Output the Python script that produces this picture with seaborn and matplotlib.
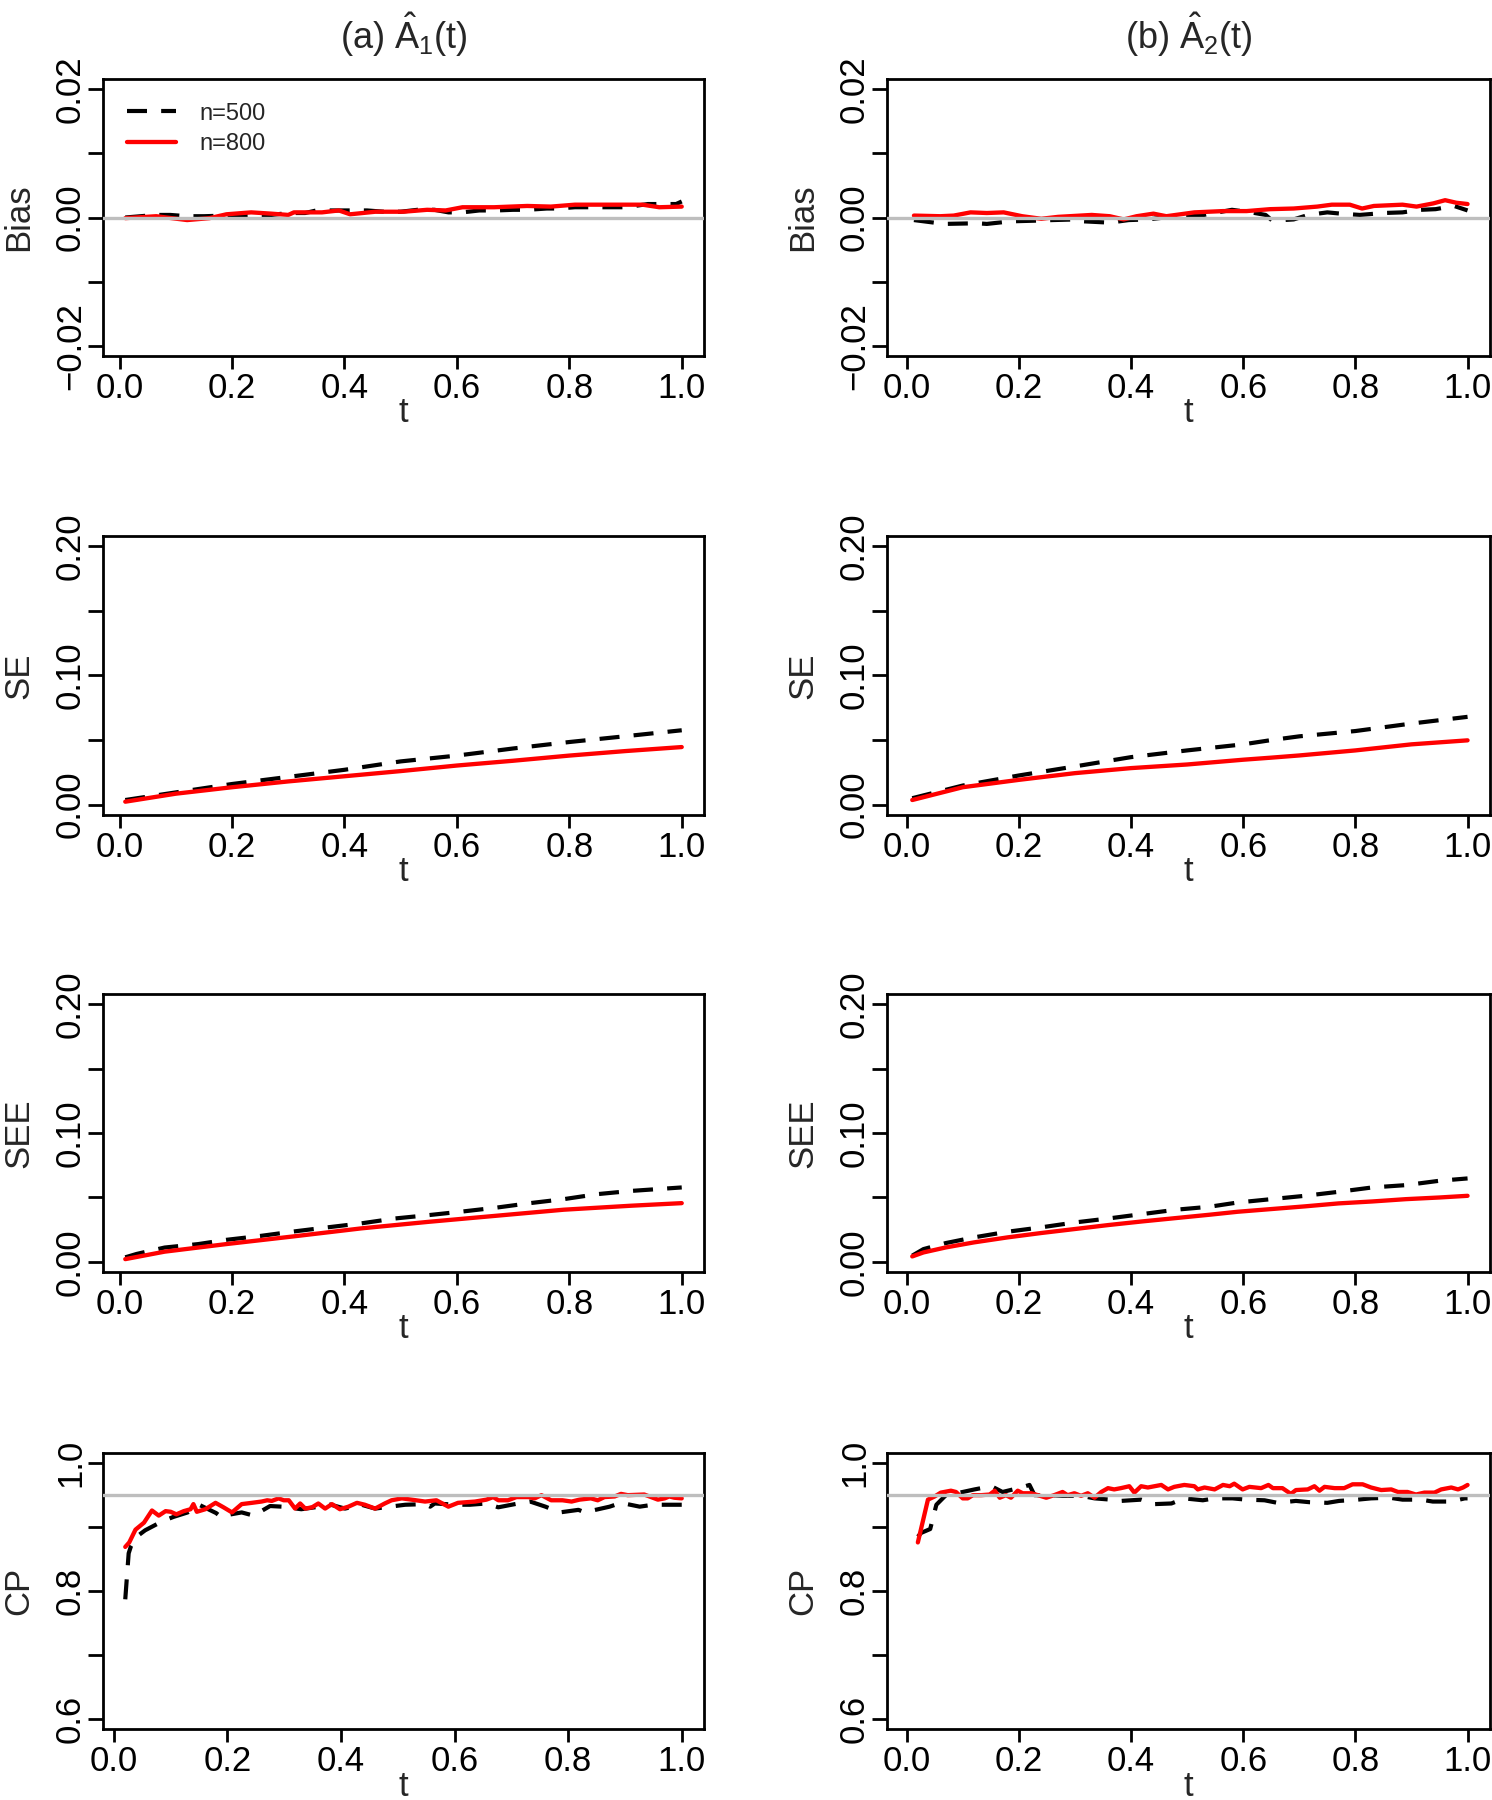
import matplotlib
matplotlib.use("Agg")
import matplotlib.pyplot as plt
import numpy as np
import pandas as pd
import seaborn as sns

# ---- data (t, value) ----
# Bias, column (a)
bias_a_t500 = [0.01, 0.065, 0.09, 0.12, 0.15, 0.23, 0.27, 0.30, 0.33, 0.35, 0.38, 0.41, 0.44, 0.47, 0.50,
               0.53, 0.56, 0.585, 0.61, 0.64, 0.67, 0.70, 0.725, 0.76, 0.78, 0.81, 0.84, 0.88, 0.90, 0.94,
               0.96, 0.99, 1.00]
bias_a_v500 = [0.0000, 0.0004, 0.0004, 0.0002, 0.0002, 0.0004, 0.0004, 0.0007, 0.0007, 0.0011, 0.0011,
               0.0011, 0.0011, 0.0009, 0.0009, 0.0012, 0.0012, 0.0008, 0.0008, 0.0011, 0.0011, 0.0012,
               0.0012, 0.0014, 0.0014, 0.0016, 0.0016, 0.0016, 0.0016, 0.0021, 0.0021, 0.0021, 0.0025]
bias_a_t800 = [0.01, 0.065, 0.12, 0.16, 0.19, 0.234, 0.27, 0.30, 0.31, 0.36, 0.39, 0.41, 0.455, 0.505,
               0.547, 0.58, 0.61, 0.666, 0.725, 0.767, 0.81, 0.87, 0.93, 0.96, 1.00]
bias_a_v800 = [-0.0001, 0.0002, -0.0004, -0.0001, 0.0005, 0.0008, 0.0006, 0.0004, 0.0008, 0.0008, 0.0011,
               0.0005, 0.0009, 0.0009, 0.0012, 0.0011, 0.0016, 0.0016, 0.0018, 0.0017, 0.0020, 0.0020,
               0.0020, 0.0016, 0.0017]
# Bias, column (b)
bias_b_t500 = [0.013, 0.067, 0.126, 0.143, 0.185, 0.227, 0.26, 0.303, 0.316, 0.362, 0.396, 0.43, 0.48,
               0.53, 0.58, 0.614, 0.64, 0.652, 0.69, 0.716, 0.75, 0.774, 0.808, 0.85, 0.884, 0.917, 0.943,
               0.976, 1.00]
bias_b_v500 = [-0.0004, -0.0010, -0.0009, -0.0010, -0.0006, -0.0005, -0.0004, -0.0003, -0.0006, -0.0008,
               -0.0004, -0.0003, 0.0002, 0.0004, 0.0012, 0.0008, 0.0004, -0.0005, -0.0003, 0.0004, 0.0008,
               0.0006, 0.0004, 0.0007, 0.0008, 0.0012, 0.0013, 0.0018, 0.0011]
bias_b_t800 = [0.013, 0.06, 0.084, 0.114, 0.143, 0.173, 0.206, 0.24, 0.27, 0.31, 0.33, 0.362, 0.387, 0.41,
               0.44, 0.463, 0.513, 0.564, 0.606, 0.648, 0.69, 0.732, 0.758, 0.79, 0.812, 0.833, 0.884, 0.909,
               0.939, 0.96, 0.98, 1.00]
bias_b_v800 = [0.0003, 0.0002, 0.0003, 0.0008, 0.0007, 0.0008, 0.0002, -0.0002, 0.0001, 0.0003, 0.0004,
               0.0002, -0.0003, 0.0002, 0.0006, 0.0002, 0.0008, 0.0010, 0.0010, 0.0013, 0.0014, 0.0017,
               0.0020, 0.0020, 0.0014, 0.0018, 0.0020, 0.0017, 0.0022, 0.0027, 0.0023, 0.0021]

# SE
se_a_t = [0.01, 0.1, 0.2, 0.3, 0.4, 0.5, 0.6, 0.7, 0.8, 0.9, 1.0]
se_a_v500 = [0.0036, 0.0095, 0.0160, 0.0215, 0.0270, 0.0335, 0.0380, 0.0435, 0.0485, 0.0530, 0.0576]
se_a_v800 = [0.0023, 0.0085, 0.0135, 0.0180, 0.0220, 0.0260, 0.0303, 0.0340, 0.0380, 0.0415, 0.0446]
se_b_t = [0.01, 0.1, 0.2, 0.3, 0.4, 0.5, 0.6, 0.65, 0.7, 0.8, 0.9, 1.0]
se_b_v500 = [0.0050, 0.0148, 0.0226, 0.0296, 0.0368, 0.0420, 0.0467, 0.0500, 0.0529, 0.0570, 0.0628, 0.0680]
se_b_v800 = [0.0036, 0.0135, 0.0192, 0.0244, 0.0283, 0.0311, 0.0348, 0.0364, 0.0381, 0.0420, 0.0467, 0.0498]

# SEE
see_a_t500 = [0.01, 0.03, 0.08, 0.14, 0.19, 0.25, 0.31, 0.37, 0.43, 0.49, 0.55, 0.61, 0.67, 0.73, 0.79,
              0.85, 0.91, 1.0]
see_a_v500 = [0.0034, 0.0060, 0.0110, 0.0137, 0.0170, 0.0200, 0.0235, 0.0267, 0.0298, 0.0336, 0.0362,
              0.0390, 0.0420, 0.0455, 0.0486, 0.0525, 0.0550, 0.0577]
see_a_t800 = [0.01, 0.08, 0.19, 0.31, 0.43, 0.55, 0.67, 0.79, 0.91, 1.0]
see_a_v800 = [0.0020, 0.0078, 0.0137, 0.0197, 0.0259, 0.0310, 0.0357, 0.0404, 0.0435, 0.0455]
see_b_t = [0.01, 0.03, 0.07, 0.12, 0.18, 0.24, 0.30, 0.36, 0.42, 0.48, 0.54, 0.59, 0.65, 0.71, 0.77,
           0.83, 0.89, 0.95, 1.0]
see_b_v500 = [0.0047, 0.0098, 0.0145, 0.0189, 0.0233, 0.0267, 0.0305, 0.0336, 0.0370, 0.0404, 0.0427,
              0.0460, 0.0486, 0.0512, 0.0543, 0.0577, 0.0595, 0.0629, 0.0647]
see_b_v800 = [0.0041, 0.0072, 0.0111, 0.0150, 0.0189, 0.0223, 0.0254, 0.0285, 0.0313, 0.0339, 0.0365,
              0.0388, 0.0409, 0.0430, 0.0453, 0.0468, 0.0486, 0.0499, 0.0512]

# CP, column (a)
cp_a_t500 = [0.02, 0.026, 0.03, 0.04, 0.055, 0.085, 0.105, 0.13, 0.15, 0.18, 0.19, 0.20, 0.225, 0.246,
             0.275, 0.296, 0.33, 0.354, 0.378, 0.407, 0.436, 0.46, 0.495, 0.513, 0.548, 0.557, 0.565,
             0.603, 0.627, 0.656, 0.677, 0.712, 0.733, 0.76, 0.785, 0.818, 0.83, 0.838, 0.873, 0.893,
             0.926, 0.949, 0.98, 1.0]
cp_a_v500 = [0.787, 0.859, 0.870, 0.885, 0.895, 0.909, 0.916, 0.923, 0.935, 0.922, 0.915, 0.919, 0.923,
             0.918, 0.933, 0.932, 0.928, 0.931, 0.936, 0.929, 0.935, 0.929, 0.933, 0.935, 0.936, 0.932,
             0.937, 0.935, 0.935, 0.937, 0.931, 0.937, 0.940, 0.932, 0.923, 0.927, 0.923, 0.925, 0.932,
             0.938, 0.932, 0.935, 0.935, 0.935]
cp_a_t800 = [0.02, 0.027, 0.038, 0.053, 0.067, 0.079, 0.091, 0.10, 0.11, 0.123, 0.135, 0.14, 0.146, 0.161,
             0.179, 0.193, 0.208, 0.225, 0.243, 0.26, 0.27, 0.278, 0.29, 0.299, 0.308, 0.319, 0.328,
             0.337, 0.349, 0.36, 0.372, 0.384, 0.398, 0.413, 0.428, 0.442, 0.46, 0.477, 0.489, 0.507,
             0.524, 0.548, 0.568, 0.589, 0.606, 0.636, 0.656, 0.668, 0.677, 0.694, 0.709, 0.73, 0.741,
             0.753, 0.77, 0.79, 0.806, 0.82, 0.84, 0.852, 0.864, 0.882, 0.893, 0.905, 0.934, 0.946,
             0.958, 0.97, 0.978, 0.987, 1.0]
cp_a_v800 = [0.869, 0.876, 0.896, 0.907, 0.926, 0.918, 0.925, 0.924, 0.920, 0.925, 0.928, 0.936, 0.924,
             0.928, 0.938, 0.931, 0.923, 0.936, 0.938, 0.940, 0.942, 0.941, 0.945, 0.942, 0.942, 0.929,
             0.937, 0.929, 0.931, 0.937, 0.929, 0.936, 0.928, 0.932, 0.938, 0.935, 0.929, 0.937, 0.942,
             0.945, 0.943, 0.940, 0.942, 0.932, 0.938, 0.940, 0.943, 0.947, 0.942, 0.942, 0.947, 0.947,
             0.945, 0.950, 0.942, 0.942, 0.940, 0.943, 0.945, 0.942, 0.947, 0.948, 0.952, 0.950, 0.951,
             0.947, 0.943, 0.945, 0.948, 0.946, 0.945]

# CP, column (b)
cp_b_t500 = [0.02, 0.026, 0.042, 0.053, 0.07, 0.10, 0.121, 0.151, 0.171, 0.204, 0.219, 0.228, 0.258,
             0.278, 0.311, 0.335, 0.364, 0.382, 0.418, 0.442, 0.472, 0.495, 0.528, 0.549, 0.581, 0.605,
             0.638, 0.661, 0.694, 0.718, 0.75, 0.771, 0.804, 0.828, 0.861, 0.884, 0.917, 0.938, 0.971,
             0.995, 1.0]
cp_b_v500 = [0.885, 0.891, 0.897, 0.935, 0.950, 0.955, 0.959, 0.964, 0.955, 0.962, 0.966, 0.950, 0.950,
             0.949, 0.949, 0.945, 0.943, 0.941, 0.943, 0.936, 0.937, 0.945, 0.942, 0.945, 0.945, 0.943,
             0.942, 0.938, 0.941, 0.939, 0.938, 0.941, 0.943, 0.945, 0.946, 0.943, 0.943, 0.940, 0.940,
             0.945, 0.945]
cp_b_t800 = [0.02, 0.038, 0.05, 0.061, 0.079, 0.088, 0.10, 0.109, 0.118, 0.133, 0.148, 0.157, 0.166,
             0.177, 0.186, 0.198, 0.207, 0.222, 0.234, 0.249, 0.263, 0.278, 0.287, 0.299, 0.311, 0.323,
             0.335, 0.347, 0.359, 0.37, 0.382, 0.397, 0.406, 0.418, 0.43, 0.442, 0.454, 0.466, 0.477,
             0.495, 0.513, 0.519, 0.531, 0.549, 0.564, 0.576, 0.584, 0.599, 0.611, 0.632, 0.645, 0.653,
             0.67, 0.685, 0.694, 0.715, 0.727, 0.736, 0.745, 0.763, 0.78, 0.795, 0.813, 0.828, 0.846,
             0.864, 0.876, 0.893, 0.908, 0.923, 0.941, 0.953, 0.971, 0.983, 0.992, 1.0]
cp_b_v800 = [0.876, 0.943, 0.948, 0.954, 0.957, 0.955, 0.945, 0.945, 0.950, 0.950, 0.951, 0.957, 0.946,
             0.950, 0.946, 0.957, 0.953, 0.953, 0.950, 0.946, 0.950, 0.955, 0.950, 0.953, 0.949, 0.953,
             0.946, 0.955, 0.961, 0.959, 0.961, 0.964, 0.954, 0.964, 0.962, 0.964, 0.966, 0.959, 0.963,
             0.966, 0.964, 0.959, 0.962, 0.959, 0.966, 0.964, 0.968, 0.959, 0.963, 0.961, 0.966, 0.961,
             0.961, 0.952, 0.958, 0.959, 0.964, 0.957, 0.963, 0.961, 0.961, 0.967, 0.967, 0.962, 0.958,
             0.959, 0.955, 0.955, 0.951, 0.954, 0.954, 0.959, 0.962, 0.959, 0.962, 0.966]

col_titles = [r"(a) $\hat{A}_1(t)$", r"(b) $\hat{A}_2(t)$"]
row_labels = ["Bias", "SE", "SEE", "CP"]
legend_labels = ["n=500", "n=800"]

# ---- style ----
sns.set_style("white")
plt.rcParams["font.family"] = ["Liberation Sans", "DejaVu Sans"]
plt.rcParams["mathtext.fontset"] = "custom"
plt.rcParams["mathtext.rm"] = "Liberation Sans"
plt.rcParams["mathtext.it"] = "Liberation Sans"
plt.rcParams["mathtext.default"] = "regular"

W, H = 1492, 1800
fig = plt.figure(figsize=(W / 100, H / 100), dpi=100)
fig.patch.set_facecolor("white")

col_x = [(103, 704), (887, 1490)]
row_y = [(79, 356), (536, 815), (994, 1272), (1453, 1729)]

panels = [
    [(bias_a_t500, bias_a_v500, bias_a_t800, bias_a_v800),
     (bias_b_t500, bias_b_v500, bias_b_t800, bias_b_v800)],
    [(se_a_t, se_a_v500, se_a_t, se_a_v800),
     (se_b_t, se_b_v500, se_b_t, se_b_v800)],
    [(see_a_t500, see_a_v500, see_a_t800, see_a_v800),
     (see_b_t, see_b_v500, see_b_t, see_b_v800)],
    [(cp_a_t500, cp_a_v500, cp_a_t800, cp_a_v800),
     (cp_b_t500, cp_b_v500, cp_b_t800, cp_b_v800)],
]

yticks = [
    ([-0.02, -0.01, 0.0, 0.01, 0.02], ["\u22120.02", "", "0.00", "", "0.02"], (-0.0216, 0.0216), 0.0),
    ([0, 0.05, 0.10, 0.15, 0.20], ["0.00", "", "0.10", "", "0.20"], (-0.008, 0.208), None),
    ([0, 0.05, 0.10, 0.15, 0.20], ["0.00", "", "0.10", "", "0.20"], (-0.008, 0.208), None),
    ([0.6, 0.7, 0.8, 0.9, 1.0], ["0.6", "", "0.8", "", "1.0"], (0.584, 1.016), 0.95),
]
xlims = [[(-0.0296, 1.0396), (-0.035, 1.04)],
         [(-0.0296, 1.0396), (-0.035, 1.04)],
         [(-0.0296, 1.0396), (-0.035, 1.04)],
         [(-0.0192, 1.0392), (-0.035, 1.04)]]

FS = 25
for r in range(4):
    for c in range(2):
        x0, x1 = col_x[c]
        y0, y1 = row_y[r]
        ax = fig.add_axes([x0 / W, 1 - y1 / H, (x1 - x0) / W, (y1 - y0) / H])
        t5, v5, t8, v8 = panels[r][c]
        d5 = pd.DataFrame({"t": t5, "v": v5})
        d8 = pd.DataFrame({"t": t8, "v": v8})
        sns.lineplot(data=d5, x="t", y="v", ax=ax, color="black", linewidth=3.0,
                     estimator=None, sort=False, label=legend_labels[0])
        ax.lines[-1].set_dashes([4.8, 3.4])
        sns.lineplot(data=d8, x="t", y="v", ax=ax, color="#FF0000", linewidth=3.1,
                     estimator=None, sort=False, label=legend_labels[1])
        ticks, labs, ylim, ref = yticks[r]
        if ref is not None:
            ax.axhline(ref, color="#BEBEBE", linewidth=2.4, zorder=5)
        ax.set_ylim(*ylim)
        ax.set_xlim(*xlims[r][c])
        ax.set_yticks(ticks)
        ax.set_yticklabels(labs)
        ax.set_xticks([0, 0.2, 0.4, 0.6, 0.8, 1.0])
        ax.set_xticklabels(["0.0", "0.2", "0.4", "0.6", "0.8", "1.0"])
        ax.tick_params(axis="both", direction="out", width=2.0, labelsize=FS, color="black",
                       labelcolor="black", bottom=True, left=True)
        ax.tick_params(axis="x", length=9.5, pad=2)
        ax.tick_params(axis="y", length=11, pad=0.5)
        for lab in ax.get_yticklabels():
            lab.set_rotation(90)
            lab.set_va("center")
        for sp in ax.spines.values():
            sp.set_visible(True)
            sp.set_color("black")
            sp.set_linewidth(2.0)
        ax.set_ylabel(row_labels[r], fontsize=FS, va="center")
        ax.yaxis.set_label_coords(-84 / (x1 - x0), 0.5)
        ax.set_xlabel("t", fontsize=FS, va="center")
        ax.xaxis.set_label_coords(0.5, -57 / (y1 - y0))
        if r == 0 and c == 0:
            ax.legend(loc="upper left", bbox_to_anchor=(0.0, 1.0), frameon=False, fontsize=17,
                      handlelength=2.1, handletextpad=1.0, labelspacing=0.35,
                      borderaxespad=0.6, borderpad=0.4)
        else:
            leg = ax.get_legend()
            if leg is not None:
                leg.remove()

for c in range(2):
    x0, x1 = col_x[c]
    fig.text((x0 + x1) / 2 / W, 1 - 35 / H, col_titles[c], fontsize=FS + 1, ha="center", va="center")

fig.savefig("out.png", dpi=100, facecolor="white")
